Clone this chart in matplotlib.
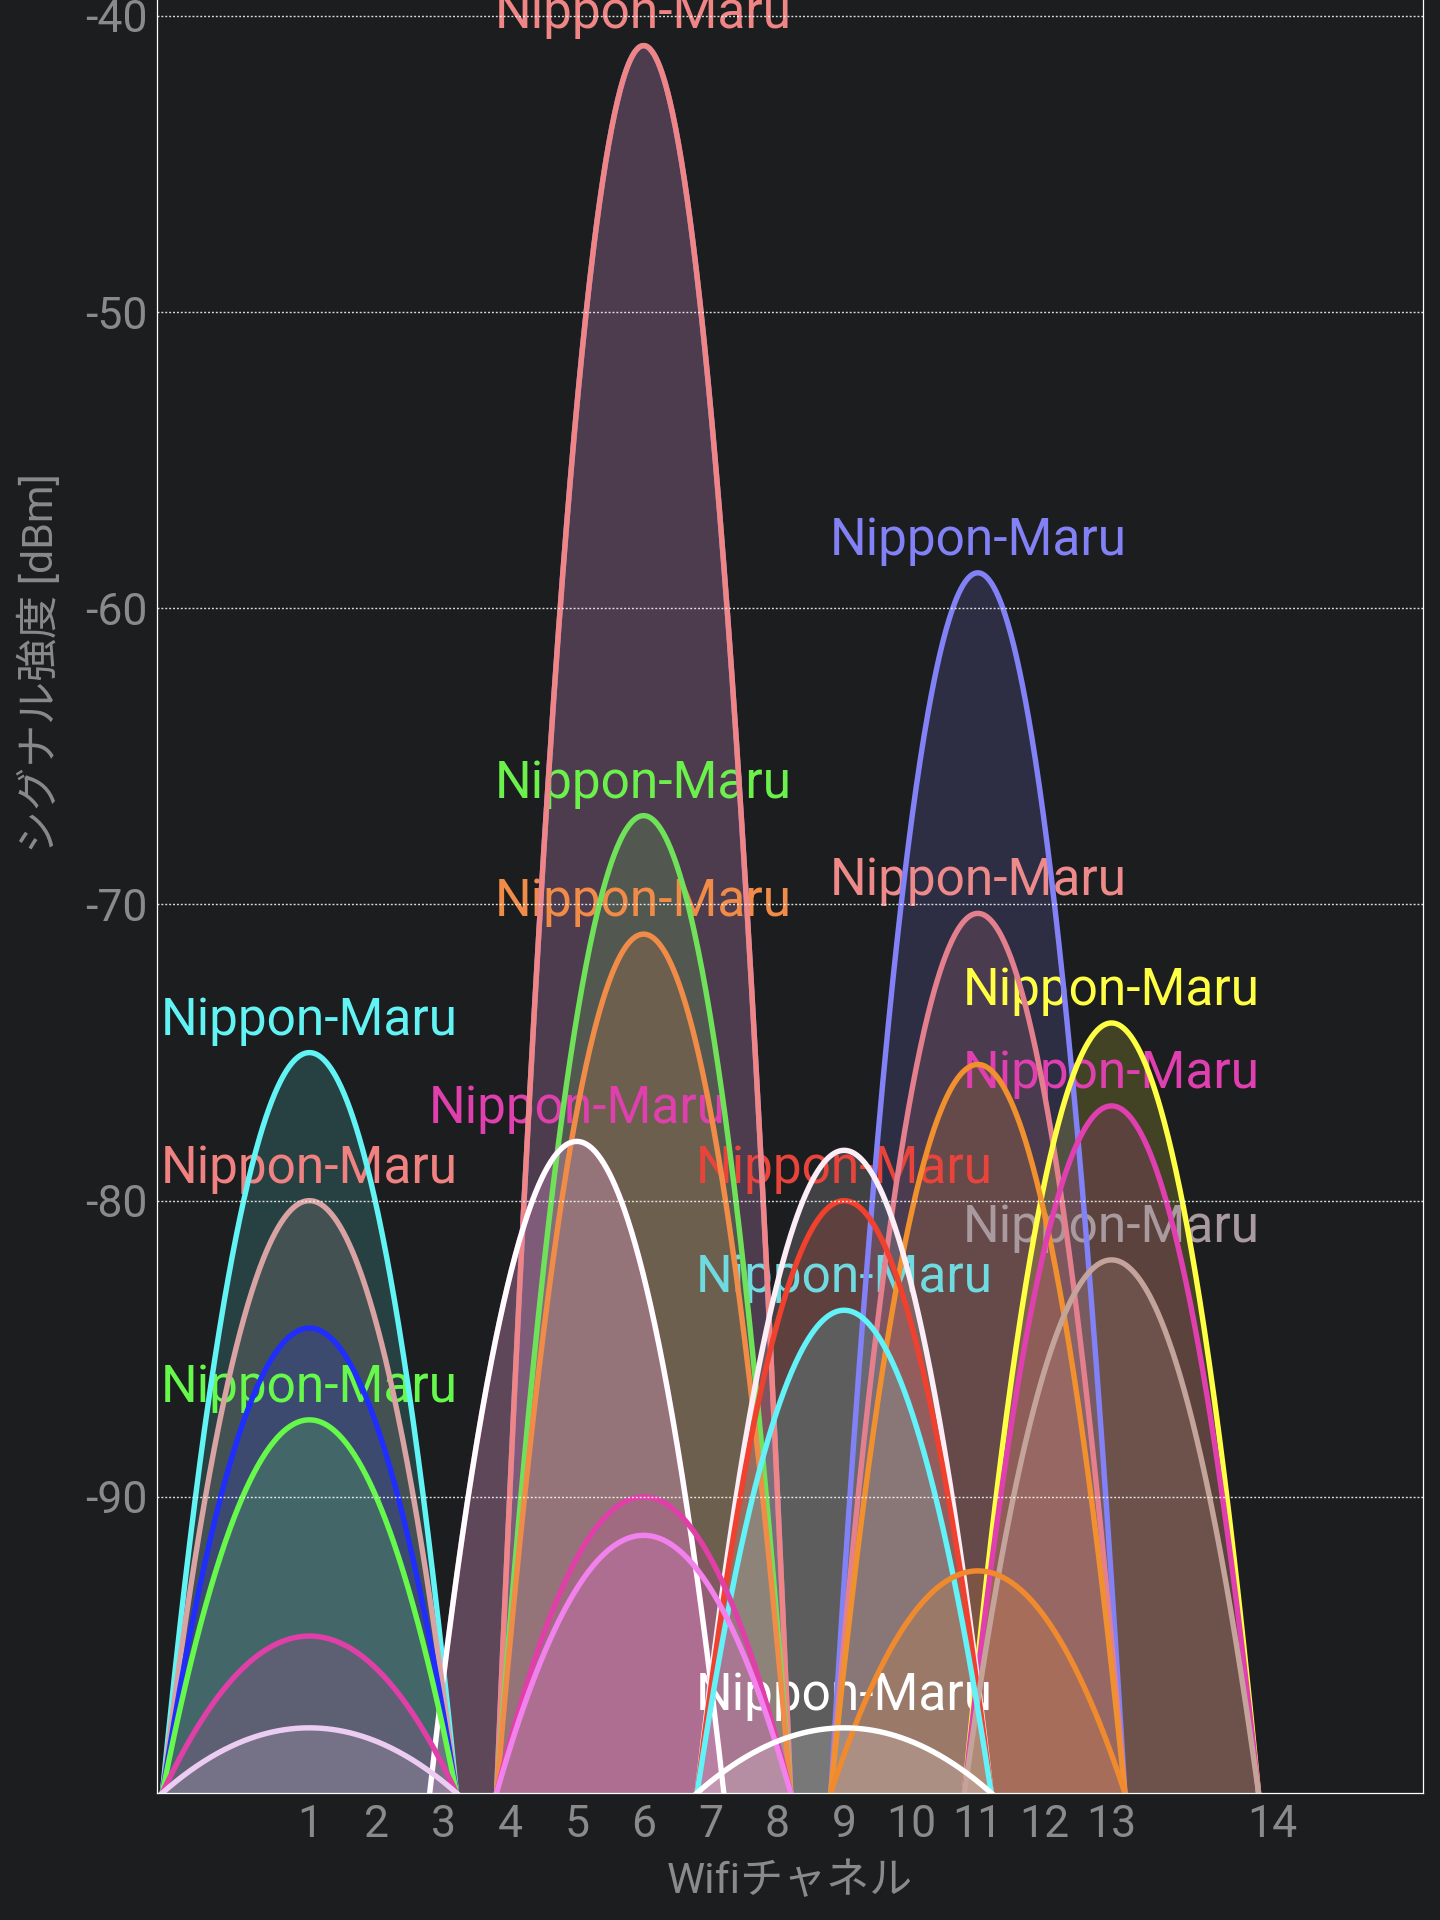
import numpy as np
import matplotlib.pyplot as plt

plt.rcParams['font.family'] = ['Roboto', 'Noto Sans CJK JP', 'DejaVu Sans']

BG = '#1c1d1f'
GREY = '#8a8a8a'

# x axis is frequency (MHz); ticks are channel numbers at their centre frequency
channel_names = ['1', '2', '3', '4', '5', '6', '7', '8', '9', '10', '11', '12', '13', '14']
channel_mhz = [2412, 2417, 2422, 2427, 2432, 2437, 2442, 2447, 2452, 2457, 2462, 2467, 2472, 2484]
dbm_ticks = [-90, -80, -70, -60, -50, -40]
dbm_tick_labels = ['-90', '-80', '-70', '-60', '-50', '-40']

ssid = 'Nippon-Maru'

# one entry per access point; equal-level twins are listed hidden one first
net_channel = [1, 1, 1, 1, 1, 1,
               5, 5,
               6, 6, 6, 6, 6, 6,
               9, 9, 9, 9,
               11, 11, 11, 11,
               13, 13, 13]
net_dbm = [-75.0, -80.0, -84.3, -87.4, -94.7, -97.8,
           -78.0, -78.0,
           -41.0, -41.0, -67.0, -71.0, -90.0, -91.3,
           -78.3, -80.0, -83.7, -97.8,
           -58.8, -70.3, -75.4, -92.5,
           -74.0, -76.8, -82.0]
net_color = ['#62f4f4', '#d9a3a3', '#1f2dff', '#66f84a', '#e03fa8', '#ecccf2',
             '#e03fae', '#ffffff',
             '#8282f6', '#f08585', '#6fe25a', '#f08c48', '#e03fa8', '#f281ee',
             '#fbeef6', '#f0402e', '#62f2f8', '#ffffff',
             '#8282f6', '#e4808e', '#f0902e', '#f08a2e',
             '#ffff44', '#e03fb0', '#c4a49a']
net_label_color = ['#62f4f4', '#f08282', None, '#66f84a', None, None,
                   '#e03fae', None,
                   None, '#f08585', '#6cf04c', '#f08c48', None, None,
                   None, '#e8443c', '#6fdbe0', '#ffffff',
                   '#8282f6', '#ee8a8a', None, None,
                   '#ffff44', '#e03fb0', '#a89a9e']

HALF_WIDTH = 11.0   # MHz, a 22 MHz wide channel
FLOOR = -100.0

freq_of = dict(zip(channel_names, channel_mhz))

fig = plt.figure(figsize=(14.4, 19.2), dpi=100, facecolor=BG)
ax = fig.add_axes([157 / 1440, 1 - 1793 / 1920, (1423 - 157) / 1440, 1793 / 1920])
ax.set_facecolor(BG)

# strongest drawn first, weaker ones on top; fills < labels < curves
for i in np.argsort(-np.array(net_dbm), kind='stable'):
    f0 = freq_of[str(net_channel[i])]
    x = np.linspace(f0 - HALF_WIDTH, f0 + HALF_WIDTH, 300)
    y = net_dbm[i] - (net_dbm[i] - FLOOR) * ((x - f0) / HALF_WIDTH) ** 2
    ax.fill_between(x, y, FLOOR, color=net_color[i], alpha=0.17, lw=0, zorder=2)
    ax.plot(x, y, color=net_color[i], lw=3.9, zorder=2.2)
    if net_label_color[i] is not None:
        ax.annotate(ssid, (f0, net_dbm[i]), xytext=(0, 13), textcoords='offset points',
                    ha='center', va='baseline', fontsize=37, color=net_label_color[i],
                    zorder=2.1, annotation_clip=False)

ax.set_xlim(2400.6, 2495.3)
ax.set_ylim(FLOOR, -39.46)
ax.set_xticks(channel_mhz)
ax.set_xticklabels(channel_names)
ax.set_yticks(dbm_ticks)
ax.set_yticklabels(dbm_tick_labels)
ax.tick_params(length=0, colors=GREY, labelsize=32)
ax.tick_params(axis='x', pad=8)
ax.tick_params(axis='y', pad=6.5)

ax.set_axisbelow(False)
ax.grid(axis='y', color='white', linestyle=(0, (1.4, 1.4)), lw=1.0, alpha=0.85)

for side in ['left', 'right', 'bottom']:
    ax.spines[side].set_color('white')
    ax.spines[side].set_linewidth(0.9)
ax.spines['top'].set_visible(False)

ax.set_xlabel('Wifiチャネル', fontsize=31, color=GREY)
ax.xaxis.set_label_coords(0.5, (1793 - 1882) / 1793)
ax.xaxis.label.set_va('center')
ax.set_ylabel('シグナル強度 [dBm]', fontsize=31, color=GREY)
ax.yaxis.set_label_coords((40 - 157) / 1266, (1793 - 663) / 1793)
ax.yaxis.label.set_va('center')

fig.savefig('out.png', dpi=100, facecolor=BG)
